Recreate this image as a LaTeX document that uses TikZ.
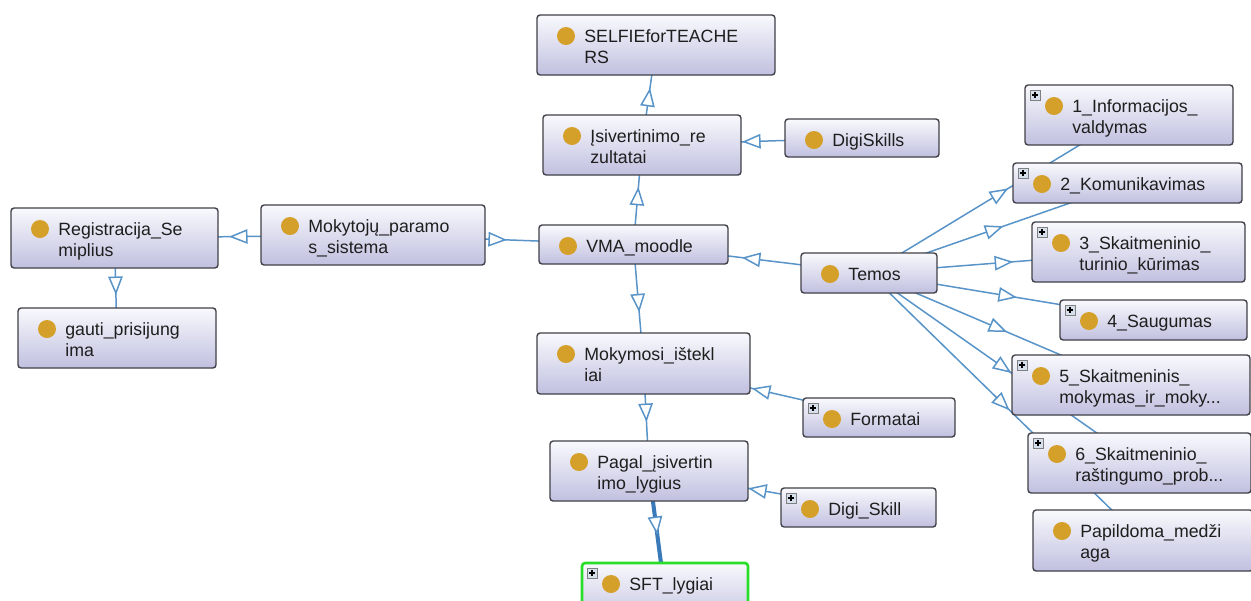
\documentclass[tikz,border=0pt]{standalone}
\usepackage{fontspec}
\setmainfont{Liberation Sans}
\usetikzlibrary{fit,arrows.meta,decorations.markings}
\pgfdeclarelayer{background}
\pgfsetlayers{background,main}
\definecolor{edgec}{RGB}{88,148,200}
\definecolor{edgedark}{RGB}{58,122,185}
\definecolor{dotc}{RGB}{212,160,42}
\definecolor{boxline}{RGB}{64,64,72}
\definecolor{boxtop}{RGB}{249,249,253}
\definecolor{boxbot}{RGB}{192,192,224}
\definecolor{txtc}{RGB}{30,30,30}
\definecolor{sftgreen}{RGB}{40,222,40}
\definecolor{plusfill}{RGB}{214,224,236}
\tikzset{
  ontobox/.style={draw=boxline, line width=0.8pt, rounded corners=1.8pt,
    top color=boxtop, bottom color=boxbot, inner sep=0pt, outer sep=0pt},
  selectedbox/.style={draw=sftgreen, line width=1.5pt},
  lbl/.style={anchor=base west, inner sep=0pt, text=txtc,
    font=\fontsize{10.1pt}{12.5pt}\selectfont},
  plusbox/.style={draw=gray, fill=plusfill, line width=0.4pt},
  plussign/.style={draw=black, line width=0.6pt},
  edgeline/.style={draw=edgec, line width=0.85pt},
  thickedge/.style={draw=edgedark, line width=2.3pt},
  midtri/.style={postaction={decorate}, decoration={markings,
    mark=at position #1 with {\arrow{Triangle[length=0.37cm, width=0.29cm, fill=white]}}}},
  midtrithin/.style={postaction={decorate}, decoration={markings,
    mark=at position #1 with {\arrow{Triangle[length=0.37cm, width=0.29cm, fill=white, line width=0.85pt, color=edgec]}}}}
}
\newcommand\twol[2]{\vtop{\hbox{#1}\hbox{#2}}}
% [extra style]{name}{x1}{y1}{x2}{y2}{text}
\newcommand\onto[7][]{%
  \node[ontobox,#1, fit={(#3,#4) (#5,#6)}] (#2) {};
  \fill[dotc] (#3+29,#4+21) circle[radius=0.18cm];
  \node[lbl] (#2-t) at (#3+47,#4+27) {#7};
}
\newcommand\plusmark[2]{%
  \draw[plusbox] (#1+5,#2+5) rectangle (#1+15,#2+15);
  \draw[plussign] (#1+7,#2+10) -- (#1+13,#2+10) (#1+10,#2+7) -- (#1+10,#2+13);
}
\newcommand\ontoedge[3]{\draw[edgeline, midtri=#3] (#1.center) -- (#2.center);}
\begin{document}
\begin{tikzpicture}[x=0.02cm, y=-0.02cm]
\path[use as bounding box, clip] (0,0) rectangle (1251,600);
\begin{pgfonlayer}{background}
\fill[white] (0,0) rectangle (1251,600);
\end{pgfonlayer}

\onto{selfie}{537}{15}{775}{75}{\twol{SELFIEforTEACHE}{RS}}
\onto{isv}{543}{115}{741}{175}{\twol{Įsivertinimo\_re}{zultatai}}
\onto{digiskills}{785}{119}{939}{157}{DigiSkills}
\onto{vma}{539}{225}{728}{264}{VMA\_moodle}
\onto{mok}{261}{205}{485}{265}{\twol{Mokytojų\_paramo}{s\_sistema}}
\onto{reg}{11}{208}{218}{268}{\twol{Registracija\_Se}{miplius}}
\onto{gauti}{18}{308}{216}{368}{\twol{gauti\_prisijung}{ima}}
\onto{temos}{801}{253}{937}{293}{Temos}
\onto{mokym}{537}{333}{750}{394}{\twol{Mokymosi\_ištekl}{iai}}
\onto{formatai}{803}{398}{955}{437}{Formatai}
\plusmark{803}{398}
\onto{pagal}{550}{441}{748}{501}{\twol{Pagal\_įsivertin}{imo\_lygius}}
\onto{digiskill}{781}{488}{936}{527}{Digi\_Skill}
\plusmark{781}{488}
\onto[selectedbox]{sft}{582}{563}{748}{625}{SFT\_lygiai}
\plusmark{582}{563}
\onto{info1}{1025}{85}{1233}{145}{\twol{1\_Informacijos\_}{valdymas}}
\plusmark{1025}{85}
\onto{kom2}{1013}{163}{1242}{203}{2\_Komunikavimas}
\plusmark{1013}{163}
\onto{s3}{1032}{222}{1245}{282}{\twol{3\_Skaitmeninio\_}{turinio\_kūrimas}}
\plusmark{1032}{222}
\onto{s4}{1060}{300}{1247}{340}{4\_Saugumas}
\plusmark{1060}{300}
\onto{s5}{1012}{355}{1250}{415}{\twol{5\_Skaitmeninis\_}{mokymas\_ir\_moky...}}
\plusmark{1012}{355}
\onto{s6}{1028}{433}{1251}{493}{\twol{6\_Skaitmeninio\_}{raštingumo\_prob...}}
\plusmark{1028}{433}
\onto{pap}{1033}{510}{1253}{571}{\twol{Papildoma\_medži}{aga}}

\begin{pgfonlayer}{background}
\ontoedge{isv}{selfie}{0.57}
\ontoedge{vma}{isv}{0.58}
\ontoedge{digiskills}{isv}{0.545}
\ontoedge{mok}{reg}{0.557}
\ontoedge{reg}{gauti}{0.57}
\ontoedge{mok}{vma}{0.514}
\ontoedge{temos}{vma}{0.54}
\ontoedge{vma}{mokym}{0.57}
\ontoedge{formatai}{mokym}{0.54}
\ontoedge{mokym}{pagal}{0.544}
\ontoedge{digiskill}{pagal}{0.527}
\draw[thickedge, midtrithin=0.52] (pagal.center) -- (sft.center);
\ontoedge{temos}{info1}{0.535}
\ontoedge{temos}{kom2}{0.52}
\ontoedge{temos}{s3}{0.535}
\ontoedge{temos}{s4}{0.52}
\ontoedge{temos}{s5}{0.527}
\ontoedge{temos}{s6}{0.526}
\ontoedge{temos}{pap}{0.513}
\end{pgfonlayer}
\end{tikzpicture}
\end{document}
